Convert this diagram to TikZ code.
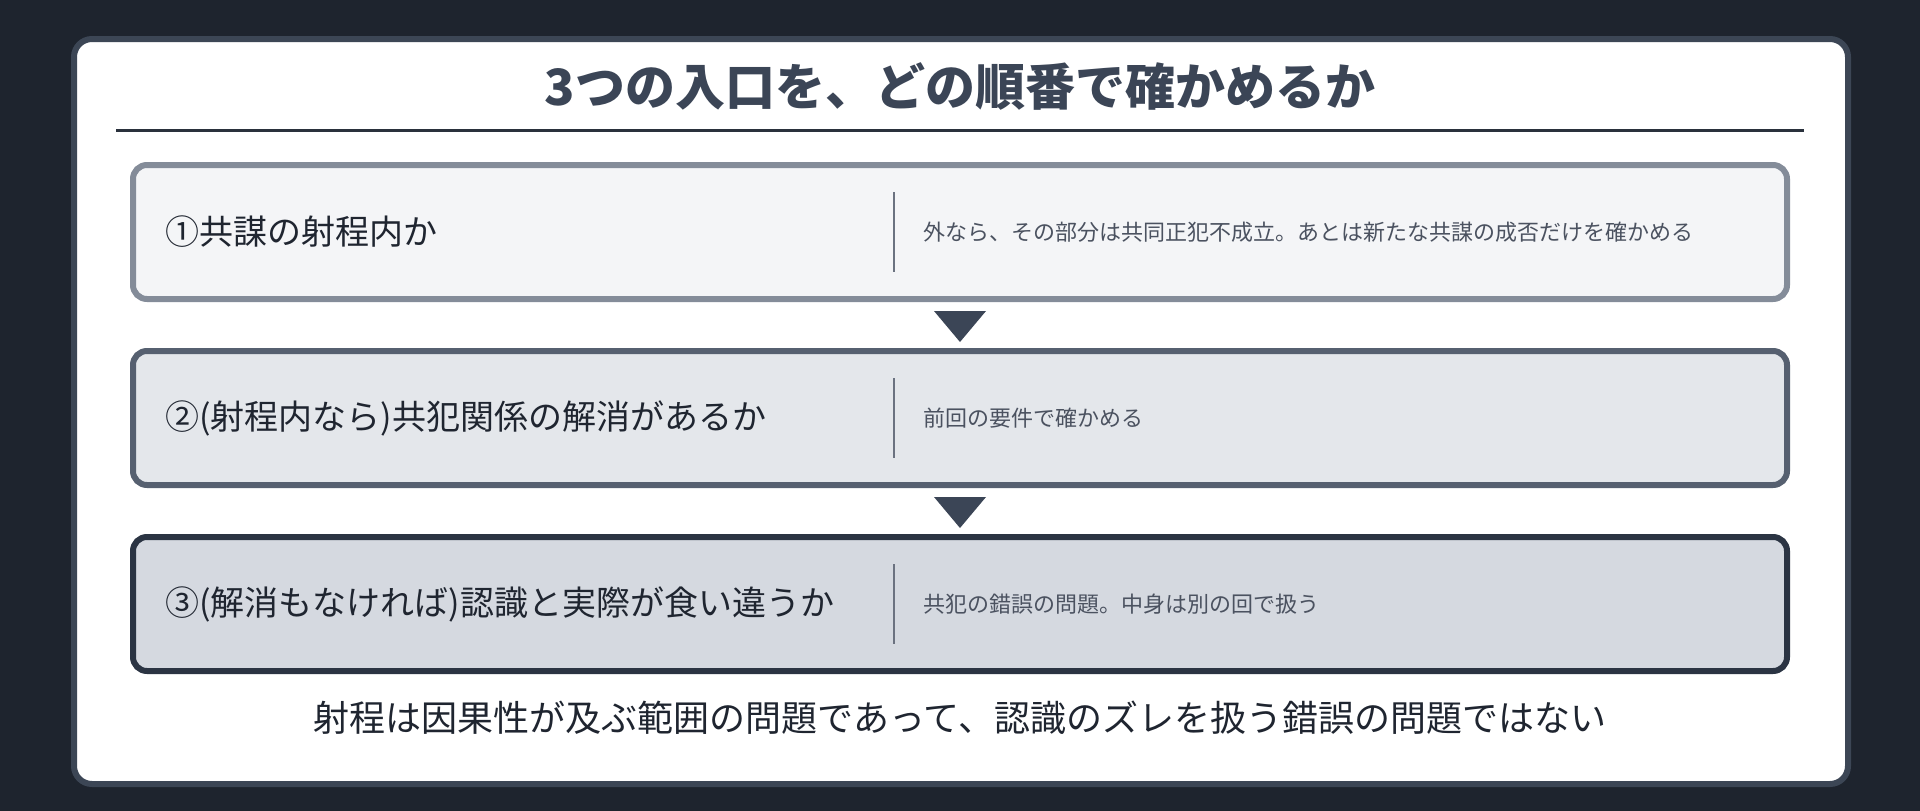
\documentclass[tikz,border=0pt]{standalone}
\usepackage{fontspec}
\setmainfont{Noto Sans CJK JP}
\usetikzlibrary{calc}
\definecolor{bgc}{HTML}{1E242E}
\definecolor{cardb}{HTML}{3C4655}
\definecolor{titlec}{HTML}{3B4556}
\definecolor{rulec}{HTML}{2A313C}
\definecolor{bAb}{HTML}{848C99}
\definecolor{bAf}{HTML}{F4F5F7}
\definecolor{bBb}{HTML}{566070}
\definecolor{bBf}{HTML}{E4E7EB}
\definecolor{bCb}{HTML}{2B3443}
\definecolor{bCf}{HTML}{D5D9E0}
\definecolor{maint}{HTML}{1F2530}
\definecolor{smallt}{HTML}{4B5260}
\definecolor{divc}{HTML}{6B7280}
\tikzset{
  stepbox/.style={rectangle, rounded corners=14pt, line width=6pt, minimum width=1654pt, minimum height=134pt, outer sep=0pt, inner sep=0pt},
  maintext/.style={anchor=west, inner sep=0pt, text=maint, font=\fontsize{34pt}{38pt}\selectfont},
  smalltext/.style={anchor=west, inner sep=0pt, text=smallt, font=\fontsize{22pt}{25pt}\selectfont},
  divline/.style={draw=divc, line width=2.5pt},
  tri/.style={fill=titlec},
}
\begin{document}
\begin{tikzpicture}[x=1pt,y=-1pt]
\useasboundingbox (0,0) rectangle (1920,811);
\fill[bgc] (0,0) rectangle (1920,811);
\node[rectangle, draw=cardb, fill=white, line width=6pt, rounded corners=18pt, minimum width=1774pt, minimum height=745pt, outer sep=0pt] (card) at (961,411.5) {};
\node[inner sep=0pt, text=titlec, font=\fontsize{50pt}{54pt}\selectfont\bfseries] (title) at (960,86) {3つの入口を、どの順番で確かめるか};
\coordinate (rl) at (116,130);
\coordinate (rr) at (1804,130);
\draw[rulec, line width=3pt] (rl) -- (rr);

\node[stepbox, draw=bAb, fill=bAf] (b1) at (960,232) {};
\node[stepbox, draw=bBb, fill=bBf] (b2) at (960,418) {};
\node[stepbox, draw=bCb, fill=bCf] (b3) at (960,604) {};

\node[maintext] (t1) at (165,232) {①共謀の射程内か};
\node[maintext] (t2) at (165,418) {②(射程内なら)共犯関係の解消があるか};
\node[maintext] (t3) at (165,604) {③(解消もなければ)認識と実際が食い違うか};

\coordinate (d1a) at (894,192); \coordinate (d1b) at (894,272);
\coordinate (d2a) at (894,378); \coordinate (d2b) at (894,458);
\coordinate (d3a) at (894,564); \coordinate (d3b) at (894,644);
\draw[divline] (d1a) -- (d1b);
\draw[divline] (d2a) -- (d2b);
\draw[divline] (d3a) -- (d3b);

\node[smalltext] (s1) at (923,232) {外なら、その部分は共同正犯不成立。あとは新たな共謀の成否だけを確かめる};
\node[smalltext] (s2) at (923,418) {前回の要件で確かめる};
\node[smalltext] (s3) at (923,604) {共犯の錯誤の問題。中身は別の回で扱う};

\fill[tri] ($(b1.south)+(-26,12)$) -- ($(b1.south)+(26,12)$) -- ($(b1.south)+(0,43)$) -- cycle;
\fill[tri] ($(b2.south)+(-26,12)$) -- ($(b2.south)+(26,12)$) -- ($(b2.south)+(0,43)$) -- cycle;

\node[inner sep=0pt, text=maint, font=\fontsize{36pt}{40pt}\selectfont] (foot) at (960,718) {射程は因果性が及ぶ範囲の問題であって、認識のズレを扱う錯誤の問題ではない};
\end{tikzpicture}
\end{document}
